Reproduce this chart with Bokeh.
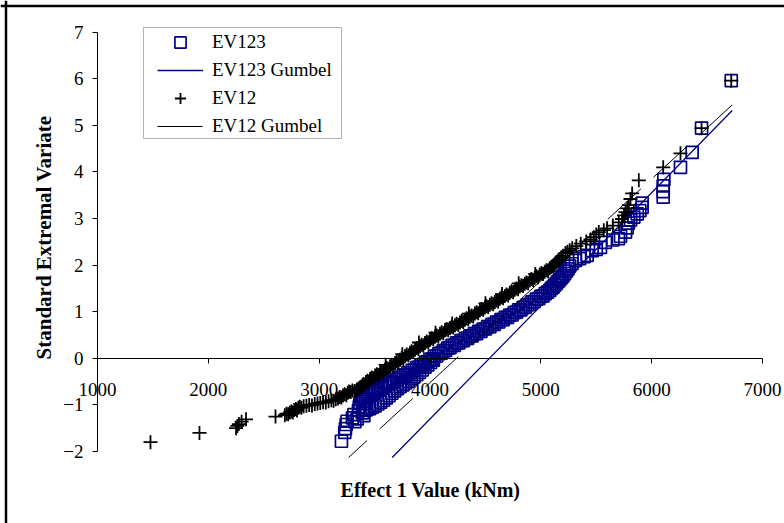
from math import pi
from bokeh.plotting import figure
from bokeh.models import Range1d, FixedTicker, Legend, LegendItem, Label, Span, BoxAnnotation
from bokeh.embed import file_html
from bokeh.resources import INLINE

# ---------------- data ----------------
ev123_x = [3201, 3231, 3237, 3244, 3252, 3300, 3322, 3343, 3313, 3403, 3390, 3355,
           3362, 3368, 3375, 3385, 3395, 3400, 3415, 3420, 3440, 3445, 3470, 3475,
           3500, 3505, 3530, 3535, 3560, 3565, 3590, 3600, 3625, 3640, 3660, 3680,
           3700, 3720, 3740, 3760, 3780, 3800, 3820, 3840, 3860, 3880, 3900, 3920,
           3940, 3960, 3980, 4000, 4020, 4040, 4060, 4080, 4100, 4120, 4140, 4160,
           4180, 4200, 4220, 4240, 4260, 4280, 4300, 4320, 4340, 4360, 4380, 4400,
           4420, 4440, 4460, 4480, 4500, 4520, 4540, 4560, 4580, 4600, 4620, 4640,
           4660, 4680, 4700, 4720, 4740, 4760, 4780, 4800, 4820, 4840, 4860, 4880,
           4900, 4920, 4940, 4960, 4980, 5000, 5020, 5040, 5060, 5080, 5095, 5110,
           5125, 5140, 5155, 5170, 5185, 5200, 5215, 5230, 5245, 5260, 5280, 5313,
           5350, 5390, 5418, 5463, 5500, 5538, 5583, 5650, 5700, 5719, 5764, 5779,
           5790, 5810, 5839, 5870, 5893, 5914, 5914, 6104, 6104, 6104, 6110, 6260,
           6365, 6450, 6718,
           3410, 3430, 3455, 3480, 3505, 3530, 3555, 3580, 3605, 3630, 3655, 3680,
           3705, 3730, 3755, 3780, 3805, 3830, 3855, 3880, 3905, 3930, 3955, 3980,
           4005, 4030]
ev123_y = [-1.78, -1.59, -1.51, -1.42, -1.35, -1.28, -1.36, -1.30, -1.21, -1.23, -1.17, -1.12,
           -1.04, -0.96, -0.88, -0.82, -0.92, -0.78, -0.86, -0.75, -0.80, -0.72, -0.76, -0.69,
           -0.72, -0.66, -0.68, -0.62, -0.64, -0.58, -0.60, -0.54, -0.55, -0.50, -0.51, -0.45,
           -0.46, -0.41, -0.41, -0.36, -0.36, -0.31, -0.31, -0.26, -0.25, -0.20, -0.19, -0.14,
           -0.13, -0.08, -0.07, -0.02, -0.01, 0.04, 0.05, 0.10, 0.11, 0.16, 0.17, 0.22,
           0.23, 0.28, 0.28, 0.33, 0.33, 0.38, 0.38, 0.43, 0.43, 0.48, 0.48, 0.53,
           0.53, 0.58, 0.58, 0.63, 0.63, 0.68, 0.68, 0.73, 0.73, 0.78, 0.78, 0.83,
           0.83, 0.88, 0.88, 0.93, 0.93, 0.98, 0.99, 1.04, 1.04, 1.09, 1.10, 1.15,
           1.16, 1.21, 1.22, 1.27, 1.28, 1.33, 1.34, 1.39, 1.42, 1.46, 1.50, 1.53,
           1.57, 1.61, 1.65, 1.69, 1.73, 1.77, 1.82, 1.87, 1.92, 1.98, 2.03, 2.10,
           2.14, 2.18, 2.21, 2.31, 2.34, 2.38, 2.49, 2.54, 2.57, 2.62, 2.71, 2.80,
           2.90, 2.97, 3.03, 3.10, 3.17, 3.24, 3.33, 3.46, 3.58, 3.70, 3.84, 4.10,
           4.42, 4.94, 5.96,
           -1.12, -1.10, -1.08, -1.05, -1.02, -0.98, -0.94, -0.90, -0.85, -0.80, -0.75, -0.70,
           -0.65, -0.61, -0.57, -0.53, -0.49, -0.44, -0.40, -0.35, -0.30, -0.25, -0.19, -0.14,
           -0.09, -0.04]

ev12_x = [1478, 1920, 2250, 2262, 2275, 2300, 2340, 2606, 2690, 2705, 2720, 2735,
          2750, 2762, 2775, 2790, 2800, 2812, 2825, 2840, 2860, 2885, 2910, 2935,
          2960, 2985, 3010, 3035, 3060, 3085, 3110, 3130, 3150, 3170, 3185, 3200,
          3215, 3230, 3245, 3258, 3270, 3285, 3300, 3320, 3340, 3355, 3370, 3380,
          3390, 3400, 3412, 3422, 3435, 3448, 3460, 3475, 3490, 3505, 3520, 3535,
          3550, 3565, 3580, 3595, 3610, 3625, 3640, 3655, 3670, 3685, 3700, 3715,
          3730, 3745, 3760, 3775, 3790, 3805, 3820, 3835, 3850, 3865, 3880, 3895,
          3910, 3925, 3940, 3955, 3970, 3985, 4000, 4015, 4030, 4045, 4060, 4075,
          4090, 4105, 4120, 4135, 4150, 4165, 4180, 4195, 4210, 4225, 4240, 4255,
          4270, 4285, 4300, 4315, 4330, 4345, 4360, 4375, 4390, 4405, 4420, 4435,
          4450, 4465, 4480, 4495, 4510, 4525, 4540, 4555, 4570, 4585, 4600, 4615,
          4630, 4645, 4660, 4675, 4690, 4705, 4720, 4735, 4750, 4765, 4780, 4795,
          4810, 4825, 4840, 4855, 4870, 4885, 4900, 4915, 4930, 4945, 4960, 4975,
          4990, 5005, 5020, 5035, 5050, 5065, 5080, 5095, 5110, 5125, 5140, 5155,
          5170, 5185, 5200, 5222, 5240, 5260, 5283, 5320, 5360, 5410, 5448, 5478,
          5500, 5523, 5568, 5598, 5650, 5703, 5733, 5750, 5764, 5780, 5794, 5809,
          5824, 5884, 6104, 6260, 6450, 6718,
          3600, 3750, 3900, 4050, 4200, 4350, 4500, 4650, 4800, 4950]
ev12_y = [-1.80, -1.60, -1.50, -1.45, -1.41, -1.36, -1.31, -1.25, -1.22, -1.19, -1.20, -1.16,
          -1.14, -1.16, -1.11, -1.09, -1.12, -1.06, -1.04, -1.06, -1.03, -1.02, -1.00, -1.01,
          -0.98, -0.97, -0.96, -0.94, -0.95, -0.92, -0.90, -0.91, -0.88, -0.86, -0.83, -0.84,
          -0.80, -0.77, -0.79, -0.74, -0.71, -0.72, -0.69, -0.70, -0.67, -0.65, -0.62, -0.64,
          -0.58, -0.55, -0.57, -0.51, -0.48, -0.50, -0.44, -0.41, -0.43, -0.37, -0.34, -0.36,
          -0.31, -0.28, -0.30, -0.24, -0.21, -0.23, -0.17, -0.14, -0.16, -0.10, -0.07, -0.09,
          -0.03, 0.00, -0.02, 0.05, 0.08, 0.06, 0.12, 0.15, 0.13, 0.19, 0.22, 0.20,
          0.26, 0.29, 0.27, 0.33, 0.36, 0.34, 0.40, 0.43, 0.41, 0.47, 0.49, 0.47,
          0.53, 0.56, 0.54, 0.60, 0.62, 0.60, 0.65, 0.68, 0.66, 0.71, 0.74, 0.72,
          0.77, 0.80, 0.78, 0.83, 0.86, 0.84, 0.89, 0.92, 0.90, 0.96, 0.99, 0.97,
          1.03, 1.06, 1.04, 1.09, 1.12, 1.10, 1.15, 1.18, 1.16, 1.21, 1.24, 1.22,
          1.28, 1.31, 1.29, 1.34, 1.37, 1.35, 1.41, 1.44, 1.42, 1.47, 1.50, 1.48,
          1.54, 1.57, 1.55, 1.60, 1.63, 1.61, 1.67, 1.70, 1.68, 1.73, 1.76, 1.74,
          1.80, 1.83, 1.81, 1.86, 1.89, 1.87, 1.93, 1.96, 1.98, 2.02, 2.06, 2.10,
          2.13, 2.17, 2.20, 2.26, 2.29, 2.32, 2.36, 2.41, 2.46, 2.51, 2.55, 2.60,
          2.66, 2.71, 2.75, 2.79, 2.85, 2.92, 2.99, 3.07, 3.14, 3.22, 3.29, 3.42,
          3.54, 3.82, 4.10, 4.40, 4.94, 5.96,
          -0.14, 0.09, 0.34, 0.55, 0.75, 0.96, 1.18, 1.38, 1.61, 1.81]

gumbel123_x = [3659, 6727]
gumbel123_y = [-2.13, 5.32]
gumbel12_x = [6727, 3265]
gumbel12_y = [5.44, -2.13]

x_ticks = [1000, 2000, 3000, 4000, 5000, 6000, 7000]
y_ticks = [-2, -1, 0, 1, 2, 3, 4, 5, 6, 7]

# ---------------- figure ----------------
W, H = 784, 523
X0, X1 = 124.8, 7198.5
Y0, Y1 = -3.545, 7.68
FONT = "Liberation Serif"
NAVY = "#000080"

p = figure(width=W, height=H, output_backend="svg", toolbar_location=None,
           x_range=Range1d(X0, X1), y_range=Range1d(Y0, Y1),
           min_border=0, min_border_left=0, min_border_right=0,
           min_border_top=0, min_border_bottom=0)
p.outline_line_color = None
p.grid.visible = False
p.background_fill_color = "white"
p.border_fill_color = "white"

for ax, loc, bnds, ticks in ((p.xaxis[0], 0, (1000, 7000), x_ticks),
                             (p.yaxis[0], 1000, (-2, 7), y_ticks)):
    ax.fixed_location = loc
    ax.bounds = bnds
    ax.ticker = FixedTicker(ticks=ticks)
    ax.axis_line_color = "black"
    ax.axis_line_width = 1
    ax.major_tick_line_color = "black"
    ax.major_tick_out = 5
    ax.major_tick_in = 0
    ax.minor_tick_line_color = None
    ax.major_label_text_font = FONT
    ax.major_label_text_font_size = "19px"
    ax.major_label_text_color = "black"
p.xaxis[0].major_label_standoff = 20
p.yaxis[0].major_label_standoff = 9

r_sq = p.scatter(ev123_x, ev123_y, marker="square", size=12, line_color=NAVY,
                 fill_alpha=0, line_width=1.7)
r_g123 = p.line(gumbel123_x, gumbel123_y, line_color=NAVY, line_width=1.3)
r_plus = p.scatter(ev12_x, ev12_y, marker="cross", size=14, line_color="black",
                   line_width=1.8)
r_g12 = p.line(gumbel12_x, gumbel12_y, line_color="black", line_width=1,
               line_dash="45 17")

# legend frame
p.add_layout(BoxAnnotation(left=143, right=341, top=H - 27, bottom=H - 138,
                           left_units="screen", right_units="screen",
                           top_units="screen", bottom_units="screen",
                           fill_color="white", fill_alpha=1,
                           line_color="black", line_width=1))
legend = Legend(items=[LegendItem(label="EV123", renderers=[r_sq]),
                       LegendItem(label="EV123 Gumbel", renderers=[r_g123]),
                       LegendItem(label="EV12", renderers=[r_plus]),
                       LegendItem(label="EV12 Gumbel", renderers=[r_g12])],
                location=(157, H - 140), orientation="vertical",
                label_text_font=FONT, label_text_font_size="19px",
                label_text_color="black",
                glyph_width=46, glyph_height=28, label_height=28,
                label_standoff=9, spacing=0, padding=0, margin=0,
                border_line_color=None, background_fill_alpha=0)
p.add_layout(legend)

# axis titles
p.add_layout(Label(x=43, y=H - 237, x_units="screen", y_units="screen",
                   text="Standard Extremal Variate", angle=pi / 2,
                   text_align="center", text_baseline="middle",
                   text_font=FONT, text_font_style="bold",
                   text_font_size="21px", text_color="black"))
p.add_layout(Label(x=430, y=H - 489, x_units="screen", y_units="screen",
                   text="Effect 1 Value (kNm)",
                   text_align="center", text_baseline="middle",
                   text_font=FONT, text_font_style="bold",
                   text_font_size="20px", text_color="black"))

# outer chart border (only its top and left edges fall inside the picture)
bx = X0 + 5.5 * (X1 - X0) / W
by = Y1 - 5.5 * (Y1 - Y0) / H
p.add_layout(Span(location=bx, dimension="height", line_color="black", line_width=2.5))
p.add_layout(Span(location=by, dimension="width", line_color="black", line_width=2.5))

open("out.html", "w").write(file_html(p, INLINE))
